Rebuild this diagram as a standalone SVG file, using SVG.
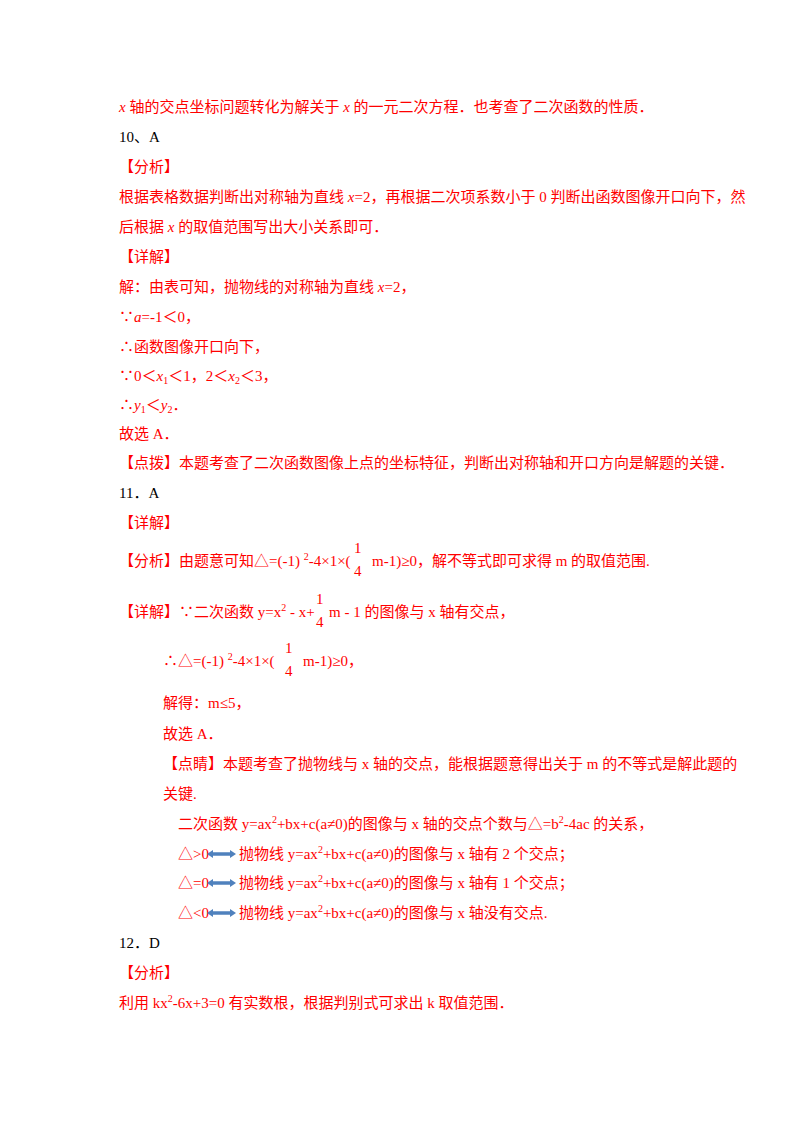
<svg xmlns="http://www.w3.org/2000/svg" width="800" height="1132" viewBox="0 0 800 1132">
<style>
text{font-family:"Liberation Serif","Noto Sans CJK SC",serif;font-size:15px;fill:#ff0000}
.k{fill:#000}
.i{font-style:italic}
.s{font-size:10px}
</style>
<defs>
<g id="arr"><path d="M3,0 L26,0" stroke="#4f81bd" stroke-width="3.5"/><path d="M0,0 L6,-4 L6,4Z M29,0 L23,-4 L23,4Z" fill="#4f81bd"/></g>
</defs>
<rect width="800" height="1132" fill="#fff"/>
<text x="119" y="112"><tspan class="i">x</tspan> 轴的交点坐标问题转化为解关于 <tspan class="i">x</tspan> 的一元二次方程．也考查了二次函数的性质．</text>
<text x="119" y="142" class="k">10、A</text>
<text x="119" y="172">【分析】</text>
<text x="119" y="202">根据表格数据判断出对称轴为直线 <tspan class="i">x</tspan>=2，再根据二次项系数小于 0 判断出函数图像开口向下，然</text>
<text x="119" y="232">后根据 <tspan class="i">x</tspan> 的取值范围写出大小关系即可．</text>
<text x="119" y="262">【详解】</text>
<text x="119" y="292">解：由表可知，抛物线的对称轴为直线 <tspan class="i">x</tspan>=2，</text>
<text x="119" y="322">∵<tspan class="i">a</tspan>=-1＜0，</text>
<text x="119" y="352">∴函数图像开口向下，</text>
<text x="119" y="381">∵0＜<tspan class="i">x</tspan><tspan class="s" dy="3">1</tspan><tspan dy="-3">＜1，2＜</tspan><tspan class="i">x</tspan><tspan class="s" dy="3">2</tspan><tspan dy="-3">＜3，</tspan></text>
<text x="119" y="410">∴<tspan class="i">y</tspan><tspan class="s" dy="3">1</tspan><tspan dy="-3">＜</tspan><tspan class="i">y</tspan><tspan class="s" dy="3">2</tspan><tspan dy="-3">．</tspan></text>
<text x="119" y="439">故选 A．</text>
<text x="119" y="468">【点拨】本题考查了二次函数图像上点的坐标特征，判断出对称轴和开口方向是解题的关键．</text>
<text x="119" y="498" class="k">11．A</text>
<text x="119" y="528">【详解】</text>
<text x="119" y="566">【分析】由题意可知△=(-1)  <tspan class="s" dy="-6">2</tspan><tspan dy="6">-4×1×(</tspan></text>
<text x="354" y="553">1</text><text x="354" y="576">4</text>
<text x="372" y="566">m-1)≥0，解不等式即可求得 m 的取值范围.</text>
<text x="119" y="617">【详解】∵二次函数 y=x<tspan class="s" dy="-6">2</tspan><tspan dy="6"> - x+</tspan></text>
<text x="316" y="604">1</text><text x="316" y="627">4</text>
<text x="329" y="617">m - 1 的图像与 x 轴有交点，</text>
<text x="163" y="666">∴△=(-1)  <tspan class="s" dy="-6">2</tspan><tspan dy="6">-4×1×(</tspan></text>
<text x="285" y="653">1</text><text x="285" y="676">4</text>
<text x="303" y="666">m-1)≥0，</text>
<text x="163" y="708">解得：m≤5，</text>
<text x="163" y="739">故选 A．</text>
<text x="163" y="769">【点睛】本题考查了抛物线与 x 轴的交点，能根据题意得出关于 m 的不等式是解此题的</text>
<text x="163" y="799">关键.</text>
<text x="178" y="829">二次函数 y=ax<tspan class="s" dy="-6">2</tspan><tspan dy="6">+bx+c(a≠0)的图像与 x 轴的交点个数与△=b</tspan><tspan class="s" dy="-6">2</tspan><tspan dy="6">-4ac 的关系，</tspan></text>
<text x="178" y="859">△&gt;0</text><use href="#arr" x="207" y="854"/>
<text x="239" y="859">抛物线 y=ax<tspan class="s" dy="-6">2</tspan><tspan dy="6">+bx+c(a≠0)的图像与 x 轴有 2 个交点；</tspan></text>
<text x="178" y="888">△=0</text><use href="#arr" x="207" y="883"/>
<text x="239" y="888">抛物线 y=ax<tspan class="s" dy="-6">2</tspan><tspan dy="6">+bx+c(a≠0)的图像与 x 轴有 1 个交点；</tspan></text>
<text x="178" y="918">△&lt;0</text><use href="#arr" x="207" y="913"/>
<text x="239" y="918">抛物线 y=ax<tspan class="s" dy="-6">2</tspan><tspan dy="6">+bx+c(a≠0)的图像与 x 轴没有交点.</tspan></text>
<text x="119" y="948" class="k">12．D</text>
<text x="119" y="978">【分析】</text>
<text x="119" y="1008">利用 kx<tspan class="s" dy="-6">2</tspan><tspan dy="6">-6x+3=0 有实数根，根据判别式可求出 k 取值范围．</tspan></text>
</svg>
